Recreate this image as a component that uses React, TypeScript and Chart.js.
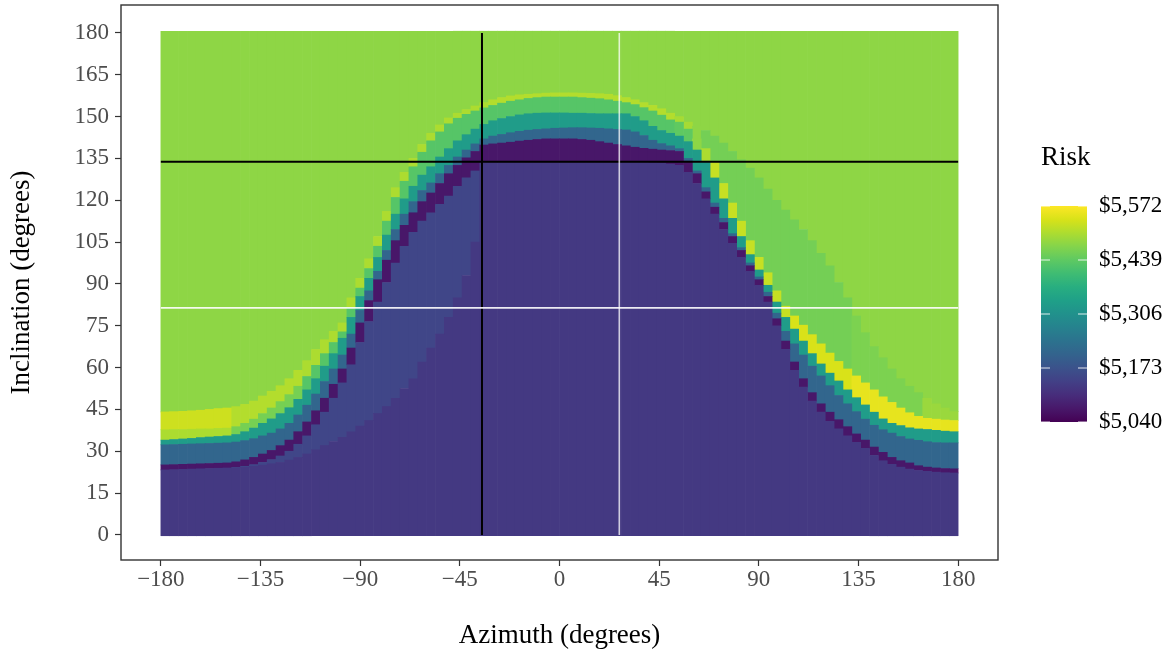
import React, { useEffect, useRef } from "react";
import { Chart, registerables } from "chart.js";

Chart.register(...registerables);

// ---------- data ----------
// Column centres (azimuth, degrees); each column is 4 degrees wide.
const azimuth = [
  -178, -174, -170, -166, -162, -158, -154, -150, -146, -142, -138, -134, -130, -126, -122, -118, -114, -110, -106, -102,
  -98, -94, -90, -86, -82, -78, -74, -70, -66, -62, -58, -54, -50, -46, -42, -38, -34, -30, -26, -22,
  -18, -14, -10, -6, -2, 2, 6, 10, 14, 18, 22, 26, 30, 34, 38, 42, 46, 50, 54, 58,
  62, 66, 70, 74, 78, 82, 86, 90, 94, 98, 102, 106, 110, 114, 118, 122, 126, 130, 134, 138,
  142, 146, 150, 154, 158, 162, 166, 170, 174, 178,
];

// Inclination (degrees) where each risk band ends, per column.
const uniformTop = [
  23.3, 23.4, 23.5, 23.6, 23.7, 23.8, 23.9, 24.0, 24.1, 24.3, 24.6, 25.0, 25.5, 26.0, 26.8, 27.8, 29.0, 30.5, 32.0, 33.5,
  35.0, 37.0, 39.0, 41.0, 43.5, 46.0, 49.0, 52.5, 56.0, 62.0, 67.0, 72.0, 78.0, 85.0, 93.0, 105.0, 133.5, 133.5, 133.5, 133.5,
  133.5, 133.5, 133.5, 133.5, 133.5, 133.5, 133.5, 133.5, 133.5, 133.5, 133.5, 133.5, 133.5, 133.5, 133.5, 133.4, 133.3, 133.0, 132.5, 130.0,
  126.0, 120.5, 115.0, 109.5, 104.5, 99.5, 94.5, 89.5, 83.5, 75.0, 66.5, 59.0, 53.0, 48.0, 44.0, 40.7, 38.0, 35.5, 33.2, 31.0,
  28.5, 26.6, 25.3, 24.3, 23.6, 23.1, 22.8, 22.5, 22.3, 22.2,
];
const mottledTop = [
  23.3, 23.4, 23.5, 23.6, 23.7, 23.8, 23.9, 24.0, 24.2, 24.6, 25.2, 26.0, 27.0, 28.3, 30.0, 32.5, 35.5, 39.5, 44.0, 49.0,
  54.5, 61.0, 69.0, 76.5, 83.5, 90.5, 97.5, 103.5, 108.5, 112.5, 115.5, 118.5, 121.5, 125.0, 128.0, 130.5, 133.5, 133.5, 133.5, 133.5,
  133.5, 133.5, 133.5, 133.5, 133.5, 133.5, 133.5, 133.5, 133.5, 133.5, 133.5, 133.5, 133.5, 133.5, 133.5, 133.4, 133.3, 133.0, 132.5, 130.0,
  126.0, 120.5, 115.0, 109.5, 104.5, 99.5, 94.5, 89.5, 83.5, 75.0, 66.5, 59.0, 53.0, 48.0, 44.0, 40.7, 38.0, 35.5, 33.2, 31.0,
  28.5, 26.6, 25.3, 24.3, 23.6, 23.1, 22.8, 22.5, 22.3, 22.2,
];
const darkTop = [
  25.1, 25.2, 25.3, 25.4, 25.5, 25.6, 25.7, 25.8, 26.2, 26.9, 27.8, 29.0, 30.3, 32.0, 34.0, 37.0, 40.5, 44.5, 49.0, 54.0,
  59.5, 67.0, 76.0, 84.0, 91.5, 98.5, 105.5, 111.0, 115.5, 119.5, 122.6, 126.0, 129.5, 132.5, 135.2, 137.5, 139.8, 140.2, 140.5, 140.8,
  141.2, 141.5, 141.8, 142.0, 142.0, 142.0, 142.0, 141.8, 141.5, 141.0, 140.5, 140.0, 139.5, 139.0, 138.6, 138.3, 138.0, 137.8, 137.5, 134.0,
  129.5, 123.0, 117.5, 112.0, 107.0, 102.0, 96.5, 91.5, 85.5, 77.5, 69.5, 62.0, 56.0, 51.0, 47.0, 44.0, 41.3, 38.8, 36.2, 34.0,
  31.5, 29.6, 27.8, 26.6, 25.8, 24.8, 24.3, 24.0, 23.8, 23.7,
];
const blueTop = [
  32.3, 32.4, 32.5, 32.6, 32.7, 32.8, 32.9, 33.0, 33.3, 33.8, 34.5, 35.5, 36.5, 38.0, 40.0, 43.0, 46.5, 50.5, 55.0, 59.5,
  64.5, 72.0, 80.5, 87.5, 94.5, 102.0, 109.5, 115.0, 119.5, 123.5, 126.2, 129.5, 132.5, 135.5, 138.0, 140.2, 142.0, 143.0, 143.6, 144.2,
  144.7, 145.1, 145.4, 145.6, 145.8, 145.9, 146.0, 146.0, 145.9, 145.8, 145.6, 145.4, 145.2, 144.5, 143.2, 141.5, 140.3, 139.5, 138.5, 135.0,
  130.5, 124.5, 119.0, 113.5, 108.0, 103.0, 97.5, 92.5, 87.0, 79.5, 73.0, 68.5, 64.5, 60.5, 57.0, 53.5, 50.0, 47.0, 44.2, 41.5,
  39.3, 37.7, 36.5, 35.3, 34.4, 33.9, 33.4, 33.1, 33.0, 33.0,
];
const tealTop = [
  34.0, 34.2, 34.4, 34.6, 34.9, 35.1, 35.3, 35.5, 36.0, 37.0, 38.3, 40.0, 41.6, 43.5, 45.6, 48.6, 52.0, 56.0, 60.5, 65.0,
  70.5, 78.0, 85.5, 92.0, 99.5, 107.5, 115.0, 120.5, 125.0, 129.0, 132.0, 135.5, 138.5, 141.3, 143.5, 145.5, 147.2, 148.5, 149.3, 150.0,
  150.6, 151.0, 151.2, 151.3, 151.3, 151.3, 151.2, 151.2, 151.1, 151.0, 151.0, 151.0, 151.0, 150.0, 148.5, 146.5, 145.0, 144.0, 143.0, 141.0,
  138.0, 134.0, 128.0, 120.5, 113.5, 107.0, 100.5, 95.0, 89.5, 83.5, 78.0, 73.8, 69.5, 65.0, 61.3, 58.0, 55.2, 52.0, 49.2, 46.6,
  44.0, 41.6, 40.0, 39.2, 38.4, 38.0, 37.8, 37.5, 37.2, 37.0,
];
const midTop = [
  37.7, 37.8, 37.8, 37.9, 38.0, 38.0, 38.2, 38.3, 38.8, 40.0, 41.5, 43.5, 45.5, 47.8, 50.3, 53.3, 56.8, 60.8, 65.0, 69.0,
  72.8, 81.5, 88.5, 95.5, 103.5, 112.5, 121.0, 126.8, 132.0, 137.2, 141.3, 144.5, 147.4, 149.4, 150.8, 152.0, 153.1, 154.0, 154.8, 155.5,
  156.0, 156.5, 156.8, 157.0, 157.0, 157.0, 157.0, 156.8, 156.6, 156.4, 156.0, 155.5, 155.0, 154.3, 153.2, 152.0, 150.5, 148.8, 148.0, 145.5,
  142.0, 138.5, 133.5, 126.0, 119.0, 112.5, 105.5, 99.5, 94.0, 87.5, 82.0, 78.5, 75.2, 71.8, 68.5, 65.2, 62.2, 59.5, 57.0, 54.5,
  52.0, 49.5, 47.5, 45.5, 43.8, 42.5, 41.8, 41.5, 41.2, 41.0,
];
const outerTop = [
  44.1, 44.2, 44.3, 44.5, 44.7, 45.0, 45.3, 45.5, 46.0, 46.8, 48.0, 49.8, 51.5, 53.5, 56.0, 59.0, 62.5, 66.5, 70.0, 73.0,
  76.0, 85.0, 92.0, 99.0, 107.0, 116.0, 124.5, 130.0, 135.0, 140.0, 144.0, 147.0, 149.5, 151.2, 152.5, 153.8, 155.0, 156.0, 156.8, 157.4,
  157.8, 158.0, 158.2, 158.4, 158.5, 158.5, 158.5, 158.4, 158.3, 158.2, 158.0, 157.5, 156.8, 156.0, 155.0, 154.0, 152.8, 151.2, 150.0, 148.0,
  146.5, 145.0, 143.0, 140.5, 137.5, 134.5, 131.5, 128.0, 124.0, 120.0, 116.5, 113.0, 109.5, 105.5, 101.0, 96.5, 90.5, 85.0, 78.5, 72.5,
  67.5, 63.5, 59.5, 56.0, 53.3, 51.0, 49.0, 47.0, 45.5, 44.2,
];

// Risk ($) of the two outer bands, per column.
const midRisk = [
  5505, 5505, 5505, 5505, 5505, 5505, 5505, 5505, 5460, 5460, 5460, 5460, 5460, 5460, 5460, 5460, 5430, 5430, 5430, 5430,
  5430, 5430, 5430, 5430, 5430, 5430, 5430, 5430, 5430, 5430, 5430, 5430, 5430, 5430, 5430, 5430, 5430, 5430, 5430, 5430,
  5430, 5430, 5430, 5430, 5430, 5430, 5430, 5430, 5430, 5430, 5430, 5430, 5430, 5430, 5430, 5430, 5430, 5430, 5440, 5440,
  5480, 5505, 5525, 5525, 5525, 5525, 5525, 5525, 5525, 5525, 5525, 5540, 5540, 5540, 5540, 5540, 5540, 5540, 5552, 5552,
  5552, 5552, 5552, 5552, 5552, 5552, 5552, 5552, 5552, 5552,
];
const outerRisk = [
  5530, 5530, 5530, 5530, 5530, 5530, 5530, 5530, 5510, 5510, 5510, 5510, 5510, 5510, 5510, 5510, 5505, 5505, 5505, 5505,
  5505, 5505, 5505, 5505, 5505, 5505, 5505, 5505, 5505, 5505, 5505, 5505, 5505, 5505, 5505, 5505, 5505, 5510, 5510, 5510,
  5510, 5510, 5510, 5510, 5510, 5510, 5510, 5510, 5510, 5510, 5510, 5510, 5510, 5510, 5510, 5510, 5510, 5510, 5500, 5500,
  5480, 5458, 5458, 5458, 5458, 5458, 5458, 5458, 5458, 5458, 5458, 5458, 5458, 5458, 5458, 5458, 5458, 5458, 5465, 5465,
  5465, 5465, 5465, 5465, 5465, 5465, 5490, 5490, 5490, 5490,
];

// Constant risk of the other bands: base, haze, dark ridge, blue, teal, upper plateau.
const bandRisk = [5127, 5150, 5072, 5212, 5330];
const plateauRisk = [5480];

const incRange = [-0.3, 180.6];
const riskLimits = [5040, 5572];
const legendBreaks = [5040, 5173, 5306, 5439, 5572];
const xTicks = [-180, -135, -90, -45, 0, 45, 90, 135, 180];
const yTicks = [0, 15, 30, 45, 60, 75, 90, 105, 120, 135, 150, 165, 180];

// reference lines
const blackAz = [-35];
const blackInc = [133.8];
const whiteAz = [27];
const whiteInc = [81.4];

// ---------- colour scale ----------
const VIRIDIS = [
  "#440154", "#48186A", "#472D7B", "#424086", "#3B528B", "#33638D", "#2C728E", "#26828E", "#21918C",
  "#1FA088", "#28AE80", "#3FBC73", "#5EC962", "#84D44B", "#ADDC30", "#D8E219", "#FDE725",
];
function hexRgb(h: string): number[] {
  return [parseInt(h.slice(1, 3), 16), parseInt(h.slice(3, 5), 16), parseInt(h.slice(5, 7), 16)];
}
function viridis(v: number): string {
  const t = Math.min(1, Math.max(0, (v - riskLimits[0]) / (riskLimits[1] - riskLimits[0])));
  const pos = t * (VIRIDIS.length - 1);
  const i = Math.min(VIRIDIS.length - 2, Math.floor(pos));
  const f = pos - i;
  const a = hexRgb(VIRIDIS[i]);
  const b = hexRgb(VIRIDIS[i + 1]);
  const c = a.map((x, k) => Math.round(x + (b[k] - x) * f));
  return `rgb(${c[0]},${c[1]},${c[2]})`;
}

const FONT = "'Liberation Serif', 'Times New Roman', serif";

function fmtAz(v: number): string {
  return v < 0 ? "\u2212" + Math.abs(v) : String(v);
}
function fmtMoney(v: number): string {
  return "$" + v.toLocaleString("en-US");
}

const panelBorder = {
  id: "panelBorder",
  afterDatasetsDraw(chart: any) {
    const { ctx, chartArea: a } = chart;
    ctx.save();
    ctx.strokeStyle = "#333333";
    ctx.lineWidth = 1.4;
    ctx.strokeRect(a.left, a.top, a.right - a.left, a.bottom - a.top);
    ctx.restore();
  },
};

const colorBar = {
  id: "colorBar",
  afterDraw(chart: any) {
    const { ctx, chartArea: a } = chart;
    const left = a.right + 43;
    const width = 46;
    const top = 206;
    const bottom = 422;
    const h = bottom - top;
    ctx.save();
    ctx.fillStyle = "#000";
    ctx.font = `27px ${FONT}`;
    ctx.textAlign = "left";
    ctx.textBaseline = "middle";
    ctx.fillText("Risk", left, 158);
    const g = ctx.createLinearGradient(0, bottom, 0, top);
    VIRIDIS.forEach((c, i) => g.addColorStop(i / (VIRIDIS.length - 1), c));
    ctx.fillStyle = g;
    ctx.fillRect(left, top, width, h);
    ctx.font = `23px ${FONT}`;
    legendBreaks.forEach((v) => {
      const y = bottom - ((v - riskLimits[0]) / (riskLimits[1] - riskLimits[0])) * h;
      ctx.strokeStyle = "rgba(255,255,255,0.85)";
      ctx.lineWidth = 1;
      ctx.beginPath();
      ctx.moveTo(left, y);
      ctx.lineTo(left + 9, y);
      ctx.moveTo(left + width - 9, y);
      ctx.lineTo(left + width, y);
      ctx.stroke();
      ctx.fillStyle = "#000";
      ctx.fillText(fmtMoney(v), left + 58, y);
    });
    ctx.restore();
  },
};

export default function App() {
  const ref = useRef<HTMLCanvasElement | null>(null);

  useEffect(() => {
    if (!ref.current) return;
    const bounds: number[][] = [uniformTop, mottledTop, darkTop, blueTop, tealTop, midTop, outerTop];
    const datasets: any[] = [];
    for (let band = 0; band < 8; band++) {
      const data: any[] = [];
      const colors: string[] = [];
      azimuth.forEach((az, i) => {
        const lo = band === 0 ? incRange[0] : bounds[band - 1][i];
        const hi = band === 7 ? incRange[1] : bounds[band][i];
        if (hi - lo < 0.05) return;
        let risk: number;
        if (band < 5) risk = bandRisk[band];
        else if (band === 5) risk = midRisk[i];
        else if (band === 6) risk = outerRisk[i];
        else risk = plateauRisk[0];
        data.push({ x: az, y: [lo, hi] });
        colors.push(viridis(risk));
      });
      datasets.push({
        type: "bar",
        data,
        backgroundColor: colors,
        borderWidth: 0,
        grouped: false,
        barPercentage: 1,
        categoryPercentage: 1,
        order: 5,
      });
    }
    const line = (pts: any[], color: string, w: number) => ({
      type: "line",
      data: pts,
      borderColor: color,
      borderWidth: w,
      pointRadius: 0,
      fill: false,
      order: 0,
      borderCapStyle: "butt",
    });
    datasets.push(line([{ x: whiteAz[0], y: 0 }, { x: whiteAz[0], y: 180 }], "rgba(255,255,255,0.75)", 1.6));
    datasets.push(line([{ x: -180, y: whiteInc[0] }, { x: 180, y: whiteInc[0] }], "rgba(255,255,255,0.9)", 1.6));
    datasets.push(line([{ x: blackAz[0], y: 0 }, { x: blackAz[0], y: 180 }], "#000000", 2));
    datasets.push(line([{ x: -180, y: blackInc[0] }, { x: 180, y: blackInc[0] }], "#000000", 2));

    const tickFont = { family: FONT, size: 23 };
    const titleFont = { family: FONT, size: 27 };

    const chart = new Chart(ref.current, {
      type: "bar",
      data: { datasets },
      options: {
        animation: false,
        responsive: false,
        devicePixelRatio: 1,
        events: [],
        layout: { padding: { top: 5, right: 176, bottom: 0, left: 0 } },
        plugins: { legend: { display: false }, tooltip: { enabled: false } },
        scales: {
          x: {
            type: "linear",
            position: "bottom",
            min: -198,
            max: 198,
            offset: false,
            grid: { display: true, offset: false, drawOnChartArea: false, drawTicks: true, tickLength: 6, tickColor: "#333333", tickWidth: 1.2 },
            border: { display: false },
            ticks: {
              font: tickFont,
              color: "#4D4D4D",
              padding: 0,
              maxRotation: 0,
              autoSkip: false,
              callback: (v: any) => fmtAz(Number(v)),
            },
            afterBuildTicks: (s: any) => {
              s.ticks = xTicks.map((v) => ({ value: v }));
            },
            afterFit: (s: any) => {
              s.height = 96;
              s.paddingLeft = 0;
              s.paddingRight = 0;
            },
            title: { display: true, text: "Azimuth (degrees)", font: titleFont, color: "#000", padding: { top: 0, bottom: 4 } },
          },
          y: {
            type: "linear",
            position: "left",
            min: -9,
            max: 190,
            beginAtZero: false,
            grid: { display: true, drawOnChartArea: false, drawTicks: true, tickLength: 6, tickColor: "#333333", tickWidth: 1.2 },
            border: { display: false },
            ticks: {
              font: tickFont,
              color: "#4D4D4D",
              padding: 6,
              autoSkip: false,
              callback: (v: any) => String(v),
            },
            afterBuildTicks: (s: any) => {
              s.ticks = yTicks.map((v) => ({ value: v }));
            },
            afterFit: (s: any) => {
              s.width = 121;
              s.paddingTop = 0;
              s.paddingBottom = 0;
            },
            title: { display: true, text: "Inclination (degrees)", font: titleFont, color: "#000", padding: { top: 6, bottom: 0 } },
          },
        },
      } as any,
      plugins: [panelBorder, colorBar],
    });
    return () => chart.destroy();
  }, []);

  return (
    <div style={{ position: "absolute", left: 0, top: 0, width: 1174, height: 656, background: "#fff" }}>
      <canvas ref={ref} width={1174} height={656} style={{ display: "block" }} />
    </div>
  );
}
